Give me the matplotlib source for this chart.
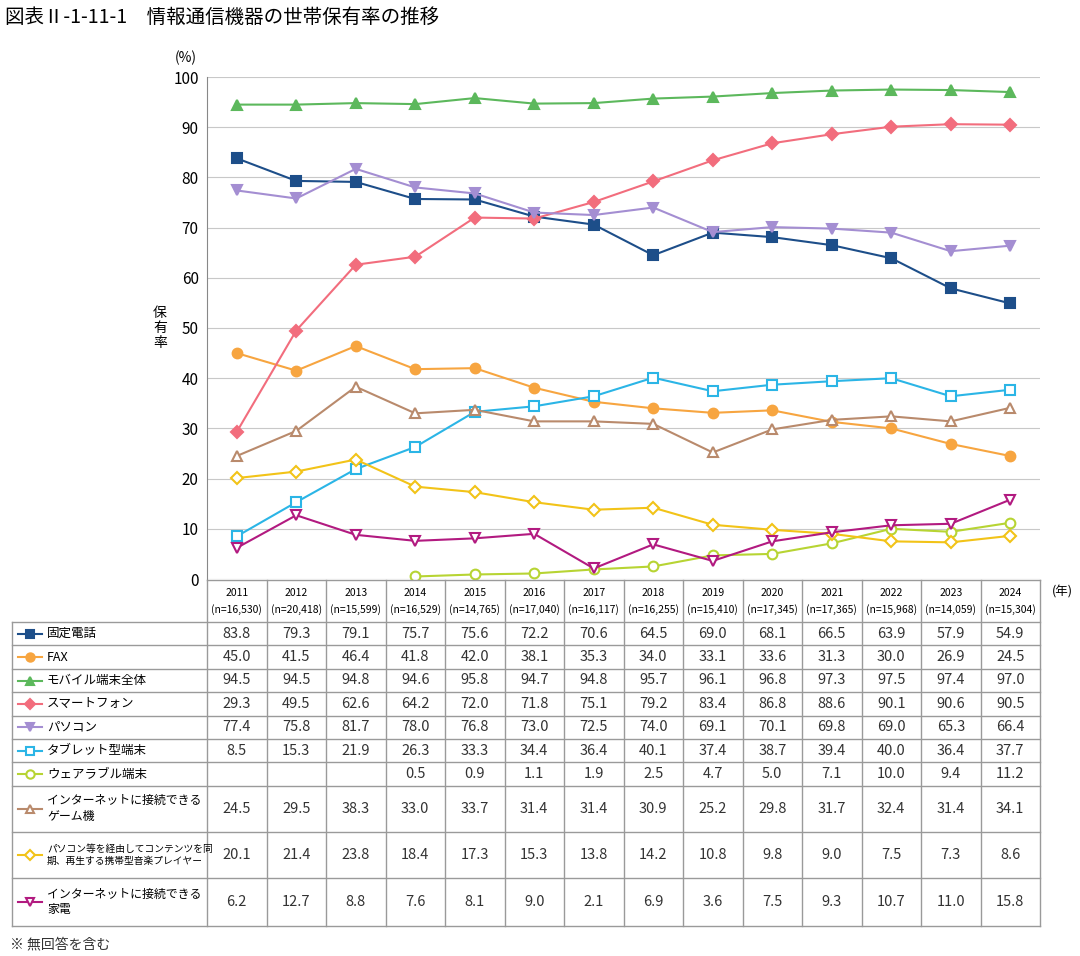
import matplotlib
matplotlib.use("Agg")
import matplotlib.pyplot as plt
import numpy as np

plt.rcParams['font.family'] = ['Noto Sans CJK JP', 'DejaVu Sans']

years = ["2011", "2012", "2013", "2014", "2015", "2016", "2017", "2018", "2019", "2020", "2021", "2022", "2023", "2024"]
samples = ["16,530", "20,418", "15,599", "16,529", "14,765", "17,040", "16,117", "16,255", "15,410", "17,345", "17,365", "15,968", "14,059", "15,304"]

names = ["固定電話", "FAX", "モバイル端末全体", "スマートフォン", "パソコン", "タブレット型端末", "ウェアラブル端末",
         "インターネットに接続できる\nゲーム機", "パソコン等を経由してコンテンツを同\n期、再生する携帯型音楽プレイヤー",
         "インターネットに接続できる\n家電"]
nan = np.nan
values = [
    [83.8, 79.3, 79.1, 75.7, 75.6, 72.2, 70.6, 64.5, 69.0, 68.1, 66.5, 63.9, 57.9, 54.9],
    [45.0, 41.5, 46.4, 41.8, 42.0, 38.1, 35.3, 34.0, 33.1, 33.6, 31.3, 30.0, 26.9, 24.5],
    [94.5, 94.5, 94.8, 94.6, 95.8, 94.7, 94.8, 95.7, 96.1, 96.8, 97.3, 97.5, 97.4, 97.0],
    [29.3, 49.5, 62.6, 64.2, 72.0, 71.8, 75.1, 79.2, 83.4, 86.8, 88.6, 90.1, 90.6, 90.5],
    [77.4, 75.8, 81.7, 78.0, 76.8, 73.0, 72.5, 74.0, 69.1, 70.1, 69.8, 69.0, 65.3, 66.4],
    [8.5, 15.3, 21.9, 26.3, 33.3, 34.4, 36.4, 40.1, 37.4, 38.7, 39.4, 40.0, 36.4, 37.7],
    [nan, nan, nan, 0.5, 0.9, 1.1, 1.9, 2.5, 4.7, 5.0, 7.1, 10.0, 9.4, 11.2],
    [24.5, 29.5, 38.3, 33.0, 33.7, 31.4, 31.4, 30.9, 25.2, 29.8, 31.7, 32.4, 31.4, 34.1],
    [20.1, 21.4, 23.8, 18.4, 17.3, 15.3, 13.8, 14.2, 10.8, 9.8, 9.0, 7.5, 7.3, 8.6],
    [6.2, 12.7, 8.8, 7.6, 8.1, 9.0, 2.1, 6.9, 3.6, 7.5, 9.3, 10.7, 11.0, 15.8],
]
colors = ["#1d4e89", "#f7a540", "#5cb85c", "#f26d7d", "#a48ed2", "#2bb5e6", "#b7d433", "#b98a6c", "#f2c318", "#b21a80"]
markers = ["s", "o", "^", "D", "v", "s", "o", "^", "D", "v"]
filled = [True, True, True, True, True, False, False, False, False, False]

W, H = 1080, 956
fig = plt.figure(figsize=(W / 100, H / 100), dpi=100)

# plot area
L, R, T, B = 207, 1040, 77, 579
ax = fig.add_axes([L / W, 1 - B / H, (R - L) / W, (B - T) / H])
x = np.arange(len(years))
for v, c, m, f in zip(values, colors, markers, filled):
    ax.plot(x, v, color=c, lw=1.5, marker=m, ms=7 if m != "D" else 6,
            markerfacecolor=c if f else "white", markeredgecolor=c, markeredgewidth=1.5, zorder=3)
ax.set_xlim(-0.5, len(years) - 0.5)
ax.set_ylim(0, 100)
ax.set_yticks(range(0, 101, 10))
ax.set_xticks([])
ax.tick_params(axis='y', length=0, labelsize=11, pad=6)
ax.grid(axis='y', color="#c8c8c8", lw=0.8)
for s in ["top", "right", "bottom"]:
    ax.spines[s].set_visible(False)
ax.spines["left"].set_color("#888888")

# overlay for title and table
ov = fig.add_axes([0, 0, 1, 1])
ov.set_xlim(0, W)
ov.set_ylim(H, 0)
ov.axis("off")
ov.patch.set_alpha(0)

ov.text(5, 17, "図表Ⅱ-1-11-1　情報通信機器の世帯保有率の推移", fontsize=14, va="center", ha="left")
ov.text(186, 58, "(%)", fontsize=10, ha="center", va="center")
ov.text(160, 328, "保\n有\n率", fontsize=10, ha="center", va="center", linespacing=1.1)
ov.text(1062, 592, "(年)", fontsize=9, ha="center", va="center")
ov.text(10, 944, "※ 無回答を含む", fontsize=10, ha="left", va="center", color="#333333")

lc = "#9a9a9a"
colw = (R - L) / len(years)
row_tops = [622 + i * 23.4 for i in range(8)] + [832, 878, 926]
# header
ov.plot([L, R], [580, 580], color=lc, lw=1)
for i, (yy, n) in enumerate(zip(years, samples)):
    cx = L + (i + 0.5) * colw
    ov.text(cx, 593, yy, fontsize=7.5, ha="center", va="center")
    ov.text(cx, 610, "(n=" + n + ")", fontsize=7.5, ha="center", va="center")
for k in range(len(years) + 1):
    ov.plot([L + k * colw] * 2, [580, 926], color=lc, lw=1)
ov.plot([12, 12], [622, 926], color=lc, lw=1)
for yt in row_tops:
    ov.plot([12, R], [yt, yt], color=lc, lw=1)

for r, (nm, v, c, m, f) in enumerate(zip(names, values, colors, markers, filled)):
    cy = (row_tops[r] + row_tops[r + 1]) / 2
    ov.plot([18, 42], [cy, cy], color=c, lw=1.5)
    ov.plot([30], [cy], marker=m, ms=6 if m != "D" else 5, color=c,
            markerfacecolor=c if f else "white", markeredgewidth=1.5)
    fs = 7.0 if r == 8 else (8.6 if r >= 7 else 9)
    ov.text(47, cy, nm, fontsize=fs, ha="left", va="center", linespacing=1.3)
    for i, val in enumerate(v):
        if not np.isnan(val):
            ov.text(L + (i + 0.5) * colw, cy, f"{val:.1f}", fontsize=10.5, ha="center", va="center", color="#333333")

fig.savefig("out.png", dpi=100)
